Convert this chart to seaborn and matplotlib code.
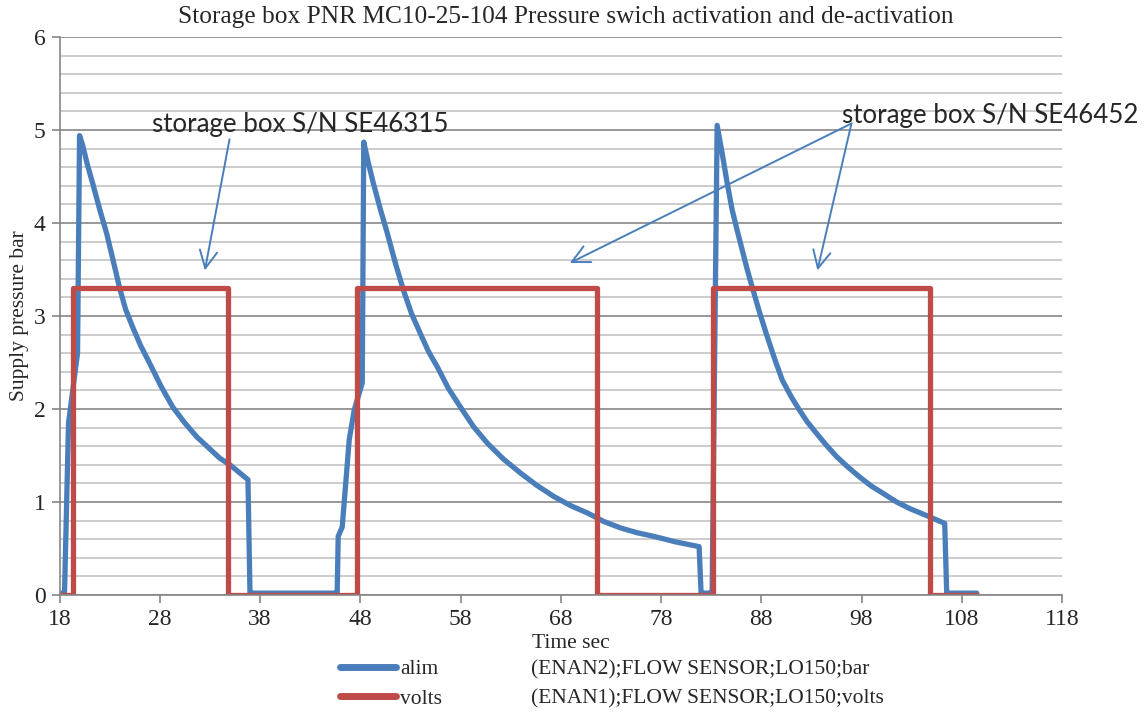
import numpy as np
import pandas as pd
import seaborn as sns
import matplotlib.pyplot as plt
from matplotlib.lines import Line2D
from matplotlib.ticker import MultipleLocator


# alim (bar)
alim_time = [18.0, 18.5, 18.9, 19.8, 20.0, 20.3, 20.8, 21.3, 22.0, 22.7, 23.3, 24.0,
             24.6, 25.3, 26.1, 27.0, 28.1, 29.3, 30.5, 31.7, 32.9, 34.0, 35.0, 36.8,
             37.0, 37.2, 45.5, 45.7, 45.8, 46.2, 46.9, 47.4, 48.2,
             48.35, 48.8, 49.3, 50.0, 50.7, 51.5, 52.3, 53.1, 54.0, 54.8, 55.7, 56.8,
             58.0, 59.3, 60.7, 62.3, 64.0, 65.6, 67.3, 69.0, 70.7, 72.3, 74.0, 75.6,
             77.3, 79.5, 81.8, 82.0, 82.8, 83.1,
             83.6, 84.1, 84.6, 85.1, 85.6, 86.1, 86.6, 87.1, 87.8, 88.5, 89.3, 90.1,
             91.0, 91.8, 92.6, 93.5, 94.5, 95.5, 96.6, 97.8, 99.0, 100.2, 101.5, 102.8,
             104.8, 106.3, 106.5, 109.5]
alim_bar = [0.02, 0.02, 1.85, 2.6, 4.94, 4.84, 4.62, 4.43, 4.15, 3.89, 3.62, 3.30,
            3.07, 2.88, 2.68, 2.49, 2.25, 2.02, 1.85, 1.70, 1.58, 1.47, 1.40, 1.24,
            0.02, 0.02, 0.02, 0.02, 0.63, 0.73, 1.67, 1.99, 2.28,
            4.87, 4.65, 4.43, 4.15, 3.89, 3.57, 3.28, 3.03, 2.81, 2.62, 2.45, 2.22,
            2.02, 1.81, 1.63, 1.46, 1.31, 1.18, 1.06, 0.96, 0.88, 0.79, 0.72, 0.67,
            0.63, 0.57, 0.52, 0.02, 0.02, 0.02,
            5.05, 4.75, 4.43, 4.14, 3.92, 3.71, 3.50, 3.31, 3.05, 2.81, 2.55, 2.31,
            2.13, 1.99, 1.86, 1.74, 1.61, 1.49, 1.38, 1.27, 1.17, 1.09, 1.00, 0.93,
            0.84, 0.77, 0.02, 0.02]

# volts step signal
volts_time = [18.0, 19.3, 19.3, 34.8, 34.8, 47.7, 47.7, 71.6, 71.6, 83.2, 83.2,
              104.8, 104.8, 109.5]
volts_val = [0, 0, 3.3, 3.3, 0, 0, 3.3, 3.3, 0, 0, 3.3, 3.3, 0, 0]

series_names = ["alim", "volts"]
series_desc = ["(ENAN2);FLOW SENSOR;LO150;bar", "(ENAN1);FLOW SENSOR;LO150;volts"]
x_ticks = list(range(18, 119, 10))

blue = "#4A7EBB"
red = "#BE4B48"

df = pd.concat([
    pd.DataFrame({"time": alim_time, "value": alim_bar, "series": "alim"}),
    pd.DataFrame({"time": volts_time, "value": volts_val, "series": "volts"}),
], ignore_index=True)

sns.set_theme(style="white")
plt.rcParams["font.family"] = ["Liberation Serif", "DejaVu Serif"]

fig = plt.figure(figsize=(11.44, 7.13), dpi=100)
ax = fig.add_axes([59.5 / 1144, 1 - 595 / 713, (1062 - 59.5) / 1144, (595 - 37) / 713])

sns.lineplot(data=df, x="time", y="value", hue="series",
             palette={"alim": blue, "volts": red}, estimator=None, sort=False,
             linewidth=3.8, legend=False, ax=ax)

ax.set_xlim(18, 118)
ax.set_ylim(0, 6)
ax.set_xticks(x_ticks)
ax.yaxis.set_major_locator(MultipleLocator(1))
ax.yaxis.set_minor_locator(MultipleLocator(0.2))
ax.yaxis.grid(True, which="major", color="#868686", lw=1.2)
ax.yaxis.grid(True, which="minor", color="#c4c4c4", lw=1.2)
ax.xaxis.grid(False)
ax.set_axisbelow(True)
for s in ["top", "right"]:
    ax.spines[s].set_visible(False)
for s in ["left", "bottom"]:
    ax.spines[s].set_color("#868686")
    ax.spines[s].set_linewidth(1.2)
ax.tick_params(axis="both", which="major", direction="out", length=6, width=1.2,
               color="#868686", labelsize=17, pad=4, bottom=True, left=True)
ax.tick_params(axis="y", which="minor", length=0)

ax.set_xlabel("")
ax.set_ylabel("")
fig.text(571 / 1144, 1 - 643 / 713, "Time sec", ha="center", va="center", fontsize=15.5)
fig.text(20 / 1144, 1 - 316 / 713, "Supply pressure bar", rotation=90,
         ha="center", va="center", fontsize=15.5)
fig.text(566 / 1144, 1 - 17 / 713,
         "Storage box PNR MC10-25-104 Pressure swich activation and de-activation",
         ha="center", va="center", fontsize=18.3)

# annotations
note_font = ["Lato", "DejaVu Sans"]
ax.text(27.2, 4.98, "storage box S/N SE46315", va="baseline", ha="left",
        fontsize=18.6, family=note_font)
ax.text(96.1, 5.07, "storage box S/N SE46452", va="baseline", ha="left",
        fontsize=18.6, family=note_font)
arrow = dict(arrowstyle="->,head_length=0.9,head_width=0.45", color=blue, lw=1.4,
             shrinkA=0, shrinkB=0, mutation_scale=14)
ax.annotate("", xy=(32.5, 3.49), xytext=(34.96, 4.90), arrowprops=arrow)
ax.annotate("", xy=(68.9, 3.57), xytext=(97.0, 5.07), arrowprops=arrow)
ax.annotate("", xy=(93.6, 3.49), xytext=(97.0, 5.07), arrowprops=arrow)

# legend: names in first column, descriptions in second
handles = [Line2D([], [], color=blue, lw=5, solid_capstyle="round"),
           Line2D([], [], color=red, lw=5, solid_capstyle="round"),
           Line2D([], [], color="none"),
           Line2D([], [], color="none")]
labels = series_names + series_desc
fig.legend(handles, labels, ncol=2, frameon=False, fontsize=15.5,
           loc="upper left", bbox_to_anchor=(340 / 1144, 1 - 659 / 713),
           borderpad=0, borderaxespad=0, handlelength=2.6, handletextpad=0.2,
           columnspacing=1.32, labelspacing=0.45)

fig.savefig("out.png", dpi=100)
